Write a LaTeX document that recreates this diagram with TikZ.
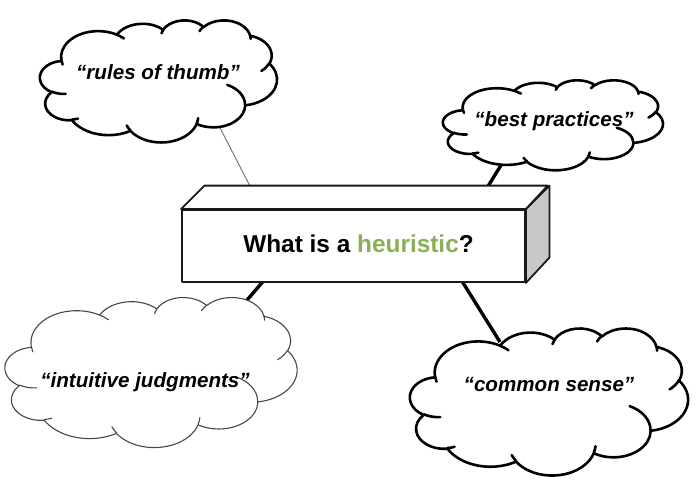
\documentclass[tikz,border=0pt]{standalone}
\usepackage{fontspec}
\setmainfont{Liberation Sans}
\definecolor{heur}{RGB}{138,176,86}
\definecolor{sidegray}{RGB}{200,200,200}
\definecolor{thinline}{RGB}{120,120,120}
\definecolor{softink}{RGB}{70,70,70}
% elliptic arc in DrawingML convention: radii, visual start angle, sweep
\newcommand\carc[4]{arc[x radius=#1, y radius=#2, start angle={atan2((#1)*sin(#3),(#2)*cos(#3))}, delta angle={mod(atan2((#1)*sin((#3)+(#4)),(#2)*cos((#3)+(#4)))-atan2((#1)*sin(#3),(#2)*cos(#3))+720,360)}]}
\newcommand\cloudoutline{(390,1437) \carc{675.3}{919.0}{-190.4875}{123.7805} \carc{533.3}{726.7}{-144.1024}{89.9452} \carc{436.5}{594.5}{-145.8079}{99.7230} \carc{485.7}{659.5}{-130.9861}{117.2417} \carc{533.3}{727.3}{-78.7089}{109.0269} \carc{677.5}{922.0}{-46.2673}{130.2690} \carc{578.5}{786.7}{0.6250}{114.0333} \carc{675.2}{921.5}{22.4516}{115.1726} \carc{772.0}{1054.3}{66.2426}{75.7110} \carc{436.0}{591.8}{-274.9421}{146.7356} \carc{434.5}{594.5}{-246.8285}{152.5189} -- cycle}
\newcommand\cloudcurls{(469.3,2617.7) \carc{434.5}{594.5}{86.7420}{26.4295} (692.8,3489.9) \carc{436.0}{591.8}{73.6105}{11.4475} (1647.8,3909.0) \carc{675.2}{921.5}{137.6242}{14.0811} (2882.7,3475.1) \carc{675.2}{921.5}{6.4533}{15.9984} (3412.9,2295.4) \carc{578.5}{786.7}{-70.2924}{70.9174} (4179.8,1535.4) \carc{533.3}{727.3}{30.3180}{27.7515} (3832.4,542.6) \carc{485.7}{659.5}{-13.7443}{14.8589} (2907.8,395.2) \carc{485.7}{659.5}{-149.1815}{18.1954} (2214.1,472.0) \carc{436.5}{594.5}{-163.4943}{17.6864} (1400.0,519.2) \carc{675.3}{919.0}{-66.7070}{12.3194} (412.7,1578.9) \carc{675.3}{919.0}{157.6544}{11.8582}}
% #1,#2 top-left corner; #3,#4 x/y unit (pt); #5 style
\newcommand\pcloud[5]{%
  \begin{scope}[shift={(#1,#2)}, x=#3pt, y=-#4pt]
    \filldraw[#5, fill=white] \cloudoutline;
    \draw[#5] \cloudcurls;
  \end{scope}}
\tikzset{
  boldcloud/.style={draw=black, line width=2.6pt, line join=round, line cap=round},
  softcloud/.style={draw=softink, line width=1.1pt, line join=round, line cap=round},
  ctext/.style={font=\fontsize{20.6}{24}\selectfont\bfseries\itshape, text=black, anchor=base, inner sep=0pt},
  heavylink/.style={draw=black, line width=3.4pt},
  lightlink/.style={draw=thinline, line width=1pt},
  boxline/.style={draw=black!90, line width=1.8pt, line join=round}
}
\begin{document}
\begin{tikzpicture}[x=1pt, y=-1pt]
\useasboundingbox (0,0) rectangle (700,492);
% connector end points
\coordinate (rulesEnd) at (217,122);
\coordinate (rulesBox) at (253,192);
\coordinate (bestEnd) at (503,162);
\coordinate (bestBox) at (485,191);
\coordinate (intuEnd) at (229,321);
\coordinate (intuBox) at (266,278);
\coordinate (commEnd) at (500,342);
\coordinate (commBox) at (460,278);
% connectors (behind)
\draw[lightlink] (rulesBox) -- (rulesEnd);
\draw[heavylink] (bestBox) -- (bestEnd);
\draw[heavylink] (intuBox) -- (intuEnd);
\draw[heavylink] (commBox) -- (commEnd);
% clouds
\pcloud{40}{20}{0.054861}{0.028241}{boldcloud}
\pcloud{443}{80}{0.050926}{0.020833}{boldcloud}
\pcloud{5}{297}{0.067593}{0.034722}{softcloud}
\pcloud{410}{328}{0.064352}{0.034028}{boldcloud}
\node[ctext] (rules) at (158,79.3) {“rules of thumb”};
\node[ctext] (best) at (554,126.7) {“best practices”};
\node[ctext] (intu) at (145,387) {“intuitive judgments”};
\node[ctext] (comm) at (549,391) {“common sense”};
% box
\node[boxline, fill=white, minimum width=343pt, minimum height=72pt, inner sep=0pt] (box) at (353.5,246) {};
\path[boxline, fill=white] (box.north west) -- ++(23.5,-23.5) -- ++(343,0) -- (box.north east) -- cycle;
\path[boxline, fill=sidegray] (box.north east) -- ++(23.5,-23.5) -- ++(0,72) -- (box.south east) -- cycle;
\node[anchor=base, inner sep=0pt, font=\fontsize{24.4}{29}\selectfont\bfseries, text=black] (title) at (358.5,252) {What is a \textcolor{heur}{heuristic}?};
\end{tikzpicture}
\end{document}
